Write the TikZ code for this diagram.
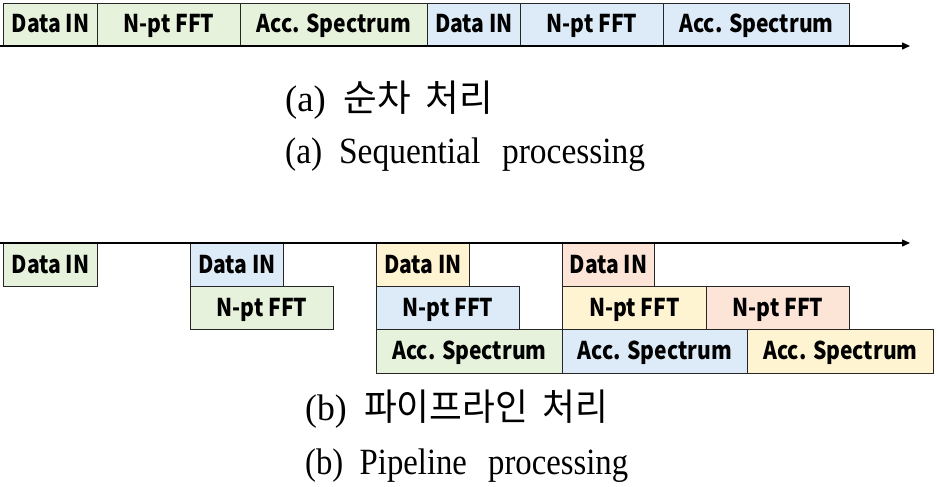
\documentclass[tikz,border=0pt]{standalone}
\usepackage{fontspec}
\usepackage{graphicx}
\setmainfont{Liberation Serif}
\newfontfamily\boxfont{Noto Sans CJK KR}
\newfontfamily\krfont{Noto Sans CJK KR}
\usetikzlibrary{arrows.meta}
\definecolor{cgreen}{HTML}{E6F2DC}
\definecolor{cblue}{HTML}{DDEBF8}
\definecolor{cyellow}{HTML}{FFF4D2}
\definecolor{cpeach}{HTML}{FCE4D6}
\newcommand{\bx}[1]{\scalebox{0.86}[1]{#1}}
\begin{document}
\begin{tikzpicture}[x=1pt,y=-1pt,
  box/.style={draw=black!85, line width=1pt, inner sep=0pt, anchor=north west,
    minimum height=43pt, text height=18pt, text depth=2pt,
    font=\boxfont\bfseries\fontsize{24.5}{24.5}\selectfont},
  axisline/.style={line width=1.4pt, -{Triangle[length=8pt,width=7pt]}},
  captxt/.style={anchor=base west, inner sep=0pt, font=\fontsize{37}{37}\selectfont}]
\useasboundingbox (0,0) rectangle (938,487);
% ---- (a) sequential
\coordinate (a0) at (0,46);
\coordinate (a1) at (910,46);
\node[box, fill=cgreen, minimum width=94pt] (s1) at (3,3) {\bx{Data IN}};
\node[box, fill=cgreen, minimum width=143pt] (s2) at (97,3) {\bx{N-pt FFT}};
\node[box, fill=cgreen, minimum width=187pt] (s3) at (240,3) {\bx{Acc. Spectrum}};
\node[box, fill=cblue, minimum width=93pt] (s4) at (427,3) {\bx{Data IN}};
\node[box, fill=cblue, minimum width=143pt] (s5) at (520,3) {\bx{N-pt FFT}};
\node[box, fill=cblue, minimum width=186pt] (s6) at (663,3) {\bx{Acc. Spectrum}};
\draw[axisline] (a0) -- (a1);
\node[captxt] (ca1) at (285,111) {\resizebox{208pt}{\height}{(a)\hspace{18pt}{\krfont 순차\hspace{15pt}처리}}};
\node[captxt] (ca2) at (285,164) {\resizebox{360pt}{\height}{(a)\hspace{0.5em}Sequential\hspace{0.65em}processing}};
% ---- (b) pipeline
\coordinate (b0) at (0,243);
\coordinate (b1) at (910,243);
\node[box, fill=cgreen, minimum width=94pt] (p1) at (3,243) {\bx{Data IN}};
\node[box, fill=cblue, minimum width=93pt] (p2) at (190,243) {\bx{Data IN}};
\node[box, fill=cgreen, minimum width=143pt] (p3) at (190,286) {\bx{N-pt FFT}};
\node[box, fill=cyellow, minimum width=93pt] (p4) at (376,243) {\bx{Data IN}};
\node[box, fill=cblue, minimum width=143pt] (p5) at (376,286) {\bx{N-pt FFT}};
\node[box, fill=cgreen, minimum width=186pt, minimum height=44pt] (p6) at (376,329) {\bx{Acc. Spectrum}};
\node[box, fill=cpeach, minimum width=92pt] (p7) at (562,243) {\bx{Data IN}};
\node[box, fill=cyellow, minimum width=144pt] (p8) at (562,286) {\bx{N-pt FFT}};
\node[box, fill=cpeach, minimum width=143pt] (p9) at (706,286) {\bx{N-pt FFT}};
\node[box, fill=cblue, minimum width=185pt, minimum height=44pt] (p10) at (562,329) {\bx{Acc. Spectrum}};
\node[box, fill=cyellow, minimum width=186pt, minimum height=44pt] (p11) at (747,329) {\bx{Acc. Spectrum}};
\draw[axisline] (b0) -- (b1);
\node[captxt] (cb1) at (305,420) {\resizebox{303pt}{\height}{(b)\hspace{18pt}{\krfont 파이프라인\hspace{15pt}처리}}};
\node[captxt] (cb2) at (305,474) {\resizebox{323pt}{\height}{(b)\hspace{0.5em}Pipeline\hspace{0.65em}processing}};
\end{tikzpicture}
\end{document}
